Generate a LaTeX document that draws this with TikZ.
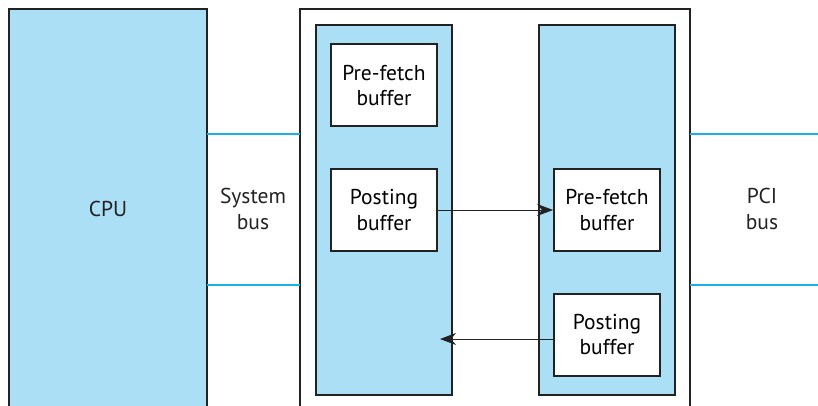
\documentclass[tikz,border=0pt]{standalone}
\usepackage{fontspec}
\setmainfont{PT Sans}
\usetikzlibrary{arrows.meta}
\definecolor{fillblue}{HTML}{ABDFF5}
\definecolor{busblue}{HTML}{1AAFE6}
\definecolor{edge}{HTML}{222222}
\tikzset{
  frame/.style={draw=edge, line width=2.3pt},
  column/.style={draw=edge, line width=2.1pt, fill=fillblue, inner sep=0pt},
  buf/.style={draw=edge, line width=2pt, fill=white, minimum width=106pt, minimum height=82pt, inner sep=0pt, align=center, font=\fontsize{21.5}{25.5}\selectfont},
  lbl/.style={align=center, font=\fontsize{21.5}{25.5}\selectfont, text=edge},
  bus/.style={draw=busblue, line width=2.6pt},
  flow/.style={draw=edge, line width=0.9pt, -{Stealth[length=16pt,width=12pt,inset=5pt]}}
}
\begin{document}
\begin{tikzpicture}[x=1pt,y=-1pt]
\useasboundingbox (0,0) rectangle (818,406);
% CPU
\fill[fillblue] (9,407) -- (9,9) -- (207,9) -- (207,407) -- cycle;
\draw[frame] (9,408) -- (9,9) -- (207,9) -- (207,408);
\node[lbl] (cpu) at (108,209) {CPU};
% bridge outer frame
\draw[frame] (300,408) -- (300,9) -- (690,9) -- (690,408);
\coordinate (brL1) at (300,134);
\coordinate (brL2) at (300,285);
\coordinate (brR1) at (690,134);
\coordinate (brR2) at (690,285);
\coordinate (cpuR1) at (207,134);
\coordinate (cpuR2) at (207,285);
\coordinate (pciE1) at (818,134);
\coordinate (pciE2) at (818,285);
% columns
\node[column, minimum width=136pt, minimum height=370pt] (colL) at (384,210) {};
\node[column, minimum width=136pt, minimum height=370pt] (colR) at (607,210) {};
% buffers
\node[buf] (pfL) at (384,85.5) {Pre-fetch\\buffer};
\node[buf] (poL) at (384,210) {Posting\\buffer};
\node[buf] (pfR) at (607,210) {Pre-fetch\\buffer};
\node[buf] (poR) at (607,334.5) {Posting\\buffer};
% buses
\draw[bus] (cpuR1) -- (brL1);
\draw[bus] (cpuR2) -- (brL2);
\draw[bus] (brR1) -- (pciE1);
\draw[bus] (brR2) -- (pciE2);
\node[lbl] (sysbus) at (253,209) {System\\bus};
\node[lbl] (pcibus) at (762,209) {PCI\\bus};
% flows
\coordinate (tipL) at (440,339);
\draw[flow] (poL.east) -- (pfR.west);
\draw[flow] (poR.west |- tipL) -- (tipL);
\end{tikzpicture}
\end{document}
